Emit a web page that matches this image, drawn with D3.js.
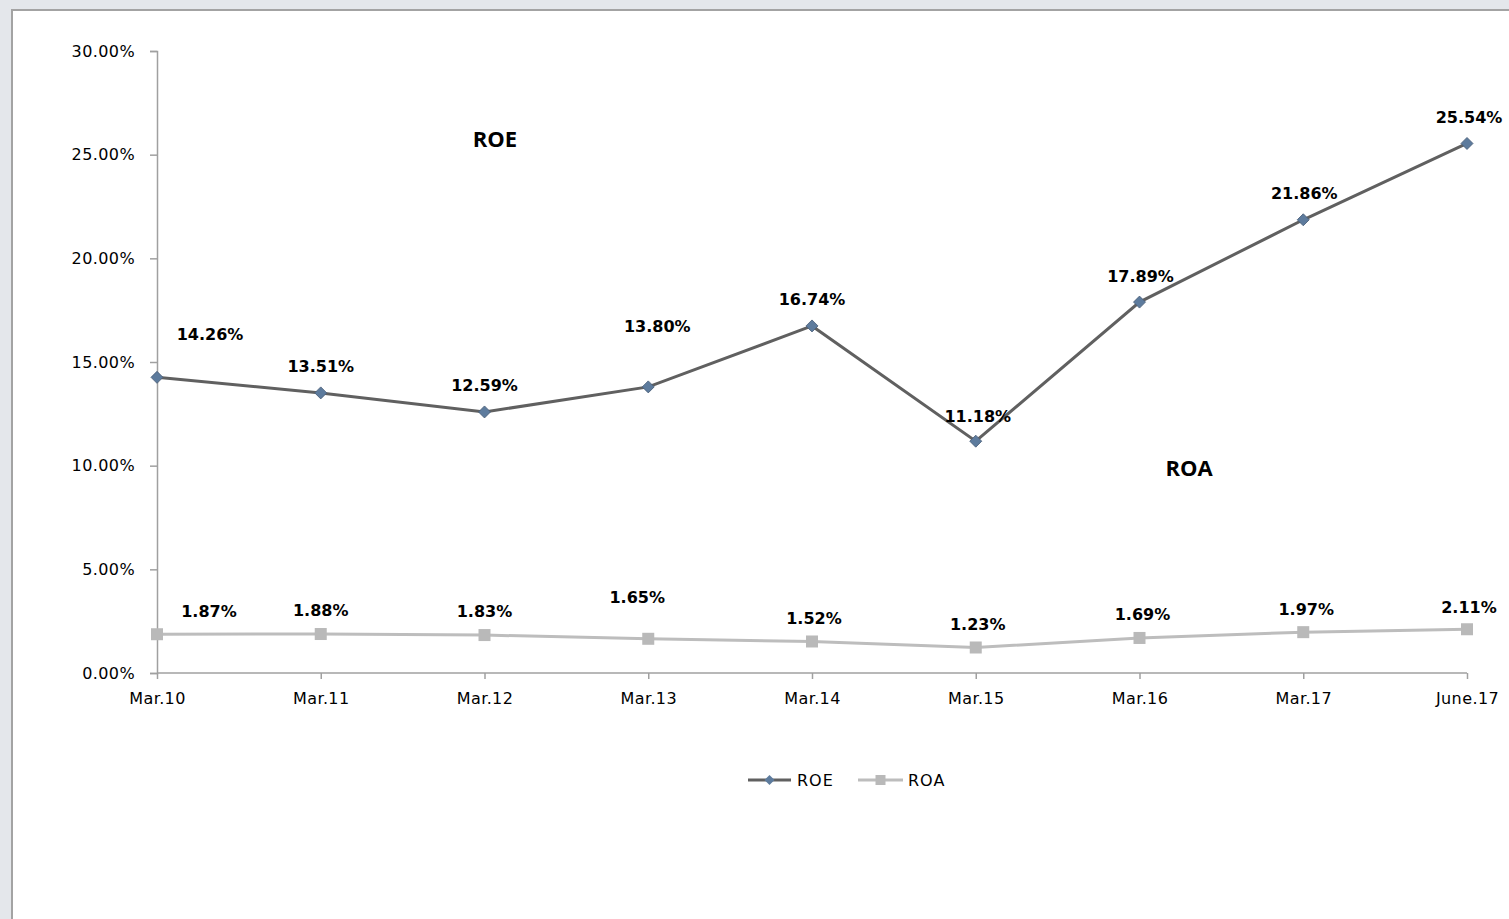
<!DOCTYPE html>
<html>
<head>
<meta charset="utf-8">
<script src="https://cdn.jsdelivr.net/npm/d3@7"></script>
<style>
  body { margin: 0; background: #e4e7eb; overflow: hidden; }
  #chart { position: absolute; left: 11px; top: 9px; width: 1510px; height: 920px;
           background: #fff; border-left: 2px solid #a3a3a3; border-top: 2px solid #a3a3a3; }
</style>
</head>
<body>
<div id="chart"></div>
<script>
const periods = ["Mar.10", "Mar.11", "Mar.12", "Mar.13", "Mar.14", "Mar.15", "Mar.16", "Mar.17", "June.17"];
const roe = [14.26, 13.51, 12.59, 13.80, 16.74, 11.18, 17.89, 21.86, 25.54];
const roa = [1.87, 1.88, 1.83, 1.65, 1.52, 1.23, 1.69, 1.97, 2.11];
const yTicks = [0, 5, 10, 15, 20, 25, 30];

// label nudges (px) relative to each point
const roeLabelShift = [[53, -42], [0, -25], [0, -25], [9, -59], [0, -25], [2, -24], [1, -25], [1, -25], [2, -25]];
const roaLabelShift = [[52, -22], [0, -23], [0, -23], [-11, -40], [2, -22], [2, -22], [3, -22], [3, -22], [2, -21]];

const width = 1509, height = 919;

const svg = d3.select("body").append("svg")
    .attr("width", width)
    .attr("height", height)
    .style("position", "absolute")
    .style("left", 0).style("top", 0);

const xscale = d3.scalePoint()
    .domain(periods)
    .range([157, 1467]);

const yscale = d3.scaleLinear()
    .domain([0, 30])
    .range([673, 51]);

const yaxis = d3.axisLeft(yscale)
    .tickValues(yTicks)
    .tickFormat(d => d.toFixed(2) + "%")
    .tickSize(7)
    .tickPadding(15);

const xaxis = d3.axisBottom(xscale)
    .tickSize(6)
    .tickPadding(14);

const gy = svg.append("g")
    .attr("transform", "translate(157,0)")
    .call(yaxis);

const gx = svg.append("g")
    .attr("transform", "translate(0,673)")
    .call(xaxis);

[gx, gy].forEach(g => {
    g.attr("font-size", null).attr("font-family", null);
    g.select(".domain").attr("stroke", "#a0a0a0").attr("stroke-width", 1.5);
    g.selectAll(".tick line").attr("stroke", "#a0a0a0").attr("stroke-width", 1.5);
    g.selectAll(".tick text")
        .attr("fill", "#000")
        .style("font-family", "DejaVu Sans, sans-serif")
        .style("font-size", "16px")
        .style("letter-spacing", "0.4px");
});
gx.select(".domain").attr("d", "M157,0H1467");

const line = d3.line()
    .x((d, i) => xscale(periods[i]))
    .y(d => yscale(d));

// ROA series
svg.append("path")
    .datum(roa)
    .attr("d", line)
    .attr("fill", "none")
    .attr("stroke", "#bdbdbd")
    .attr("stroke-width", 3);

svg.selectAll(".roa-pt")
    .data(roa)
    .enter()
    .append("rect")
    .attr("x", (d, i) => xscale(periods[i]) - 6)
    .attr("y", d => yscale(d) - 6)
    .attr("width", 12)
    .attr("height", 12)
    .attr("fill", "#b9b9b9");

// ROE series
svg.append("path")
    .datum(roe)
    .attr("d", line)
    .attr("fill", "none")
    .attr("stroke", "#606060")
    .attr("stroke-width", 3);

svg.selectAll(".roe-pt")
    .data(roe)
    .enter()
    .append("path")
    .attr("d", d3.symbol().type(d3.symbolSquare).size(72))
    .attr("transform", (d, i) => `translate(${xscale(periods[i])},${yscale(d)}) rotate(45)`)
    .attr("fill", "#5d7b9d")
    .attr("stroke", "#4a5f78")
    .attr("stroke-width", 0.8);

function dataLabels(values, shift) {
    svg.append("g").selectAll("text")
        .data(values)
        .enter()
        .append("text")
        .attr("x", (d, i) => xscale(periods[i]) + shift[i][0])
        .attr("y", (d, i) => yscale(d) + shift[i][1])
        .attr("text-anchor", "middle")
        .attr("dominant-baseline", "middle")
        .style("font-family", "DejaVu Sans, sans-serif")
        .style("font-weight", "bold")
        .style("font-size", "16px")
        .text(d => d.toFixed(2) + "%");
}
dataLabels(roe, roeLabelShift);
dataLabels(roa, roaLabelShift);

// series annotations
svg.append("text")
    .attr("x", 495).attr("y", 141)
    .attr("text-anchor", "middle")
    .attr("dominant-baseline", "middle")
    .style("font-family", "Open Sans, sans-serif")
    .style("font-weight", "bold")
    .style("font-size", "22px")
    .text("ROE");

svg.append("text")
    .attr("x", 1189).attr("y", 470)
    .attr("text-anchor", "middle")
    .attr("dominant-baseline", "middle")
    .style("font-family", "Open Sans, sans-serif")
    .style("font-weight", "bold")
    .style("font-size", "22px")
    .text("ROA");

// legend
const legend = svg.append("g").attr("transform", "translate(748,780)");

legend.append("line").attr("x1", 0).attr("x2", 43).attr("y1", 0).attr("y2", 0)
    .attr("stroke", "#606060").attr("stroke-width", 3);
legend.append("path")
    .attr("d", d3.symbol().type(d3.symbolSquare).size(50))
    .attr("transform", "translate(21.5,0) rotate(45)")
    .attr("fill", "#5d7b9d");
legend.append("text").attr("x", 49).attr("y", 1)
    .attr("dominant-baseline", "middle")
    .style("font-family", "DejaVu Sans, sans-serif")
    .style("font-size", "16px")
    .style("letter-spacing", "1px")
    .text("ROE");

legend.append("line").attr("x1", 110).attr("x2", 155).attr("y1", 0).attr("y2", 0)
    .attr("stroke", "#bdbdbd").attr("stroke-width", 3);
legend.append("rect").attr("x", 127.5).attr("y", -5).attr("width", 10).attr("height", 10)
    .attr("fill", "#b9b9b9");
legend.append("text").attr("x", 160).attr("y", 1)
    .attr("dominant-baseline", "middle")
    .style("font-family", "DejaVu Sans, sans-serif")
    .style("font-size", "16px")
    .style("letter-spacing", "1px")
    .text("ROA");
</script>
</body>
</html>
